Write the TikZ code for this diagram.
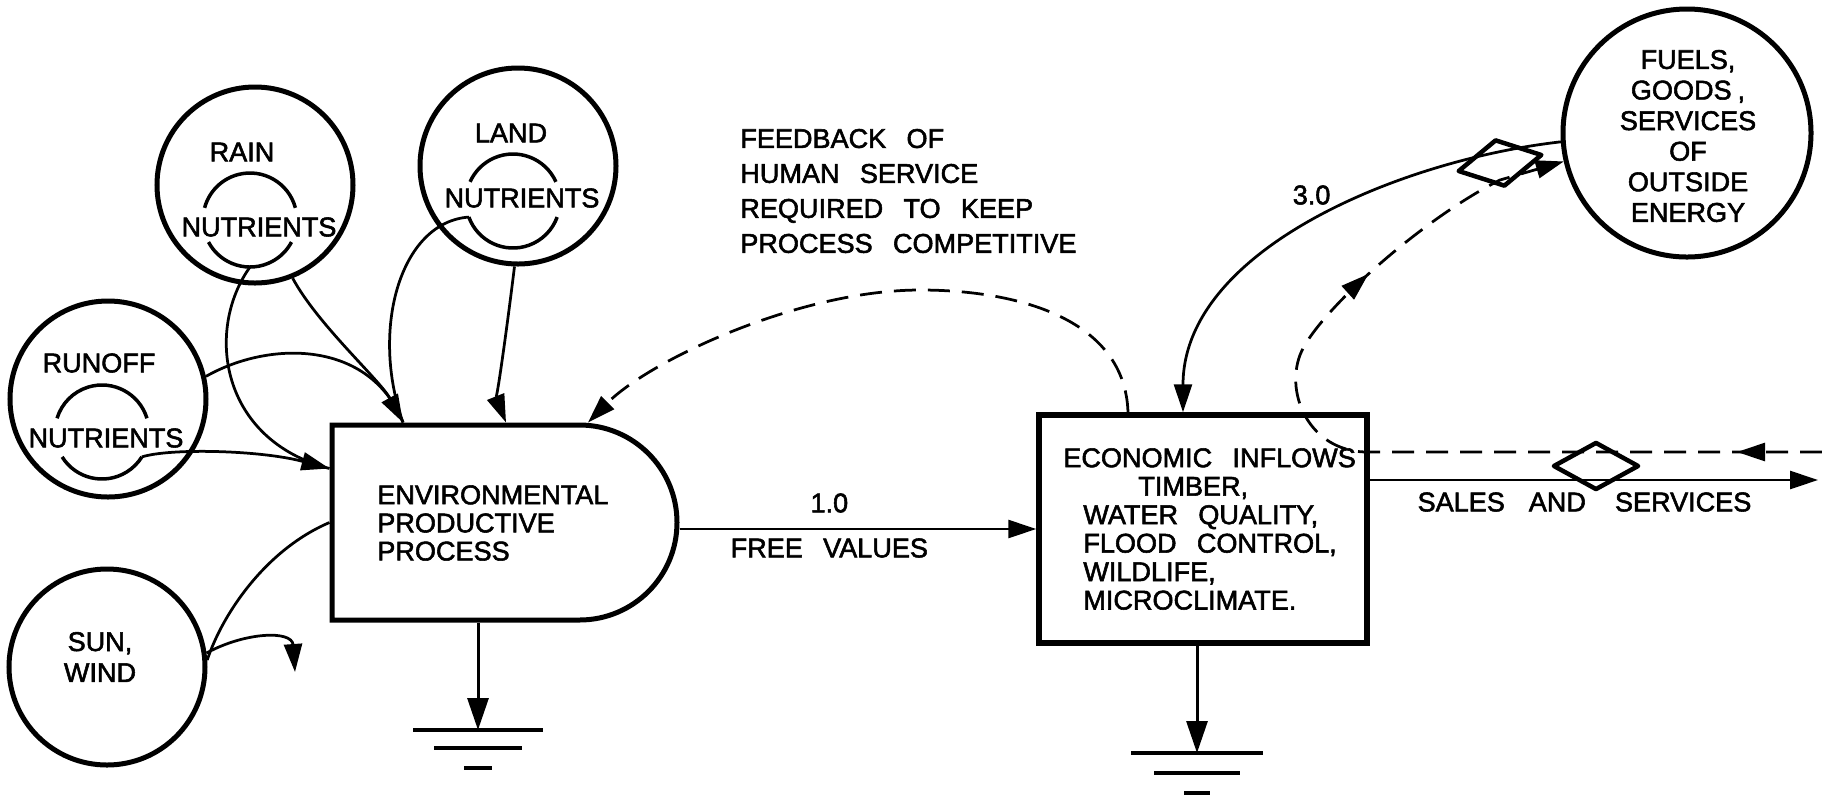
\documentclass[tikz,border=0pt]{standalone}
\usepackage{fontspec}
\setmainfont{Liberation Sans}[WordSpace=2.7, FakeBold=2]
\usetikzlibrary{shapes.geometric, shapes.misc, arrows.meta, calc, decorations.markings}
\newcommand{\lettersize}[1]{\fontsize{15.4}{#1}\selectfont}
\tikzstyle{source} = [circle, draw=black, line width=1mm, minimum size=39.2mm, inner sep=0pt]
\tikzstyle{pool} = [circle, minimum size=18.8mm, inner sep=0pt, outer sep=0pt]
\tikzstyle{rim} = [line width=0.7mm]
\tikzstyle{process} = [rounded rectangle, rounded rectangle left arc=none, draw=black, line width=1mm, minimum width=69mm, minimum height=39mm, inner sep=0pt]
\tikzstyle{outflow} = [rectangle, draw=black, line width=1.1mm, minimum width=65.6mm, minimum height=45.6mm, inner sep=0pt]
\tikzstyle{valve} = [diamond, draw=black, line width=0.9mm, minimum width=17.2mm, minimum height=9.6mm, inner sep=0pt, line join=round]
\tikzstyle{lbl} = [inner sep=0pt, font=\lettersize{17.5}]
\tikzstyle{flow} = [line width=0.55mm]
\tikzstyle{arrow} = [flow, -{Triangle[length=5.6mm, width=3.6mm]}]
\tikzstyle{money} = [flow, dash pattern=on 4.4mm off 2.4mm]
\tikzstyle{sink} = [line width=0.6mm, -{Triangle[length=6.4mm, width=4.2mm]}]
\tikzstyle{earth} = [line width=0.9mm]

\begin{document}
\begin{tikzpicture}[x=0.2mm, y=-0.2mm]
\useasboundingbox (0,0) rectangle (1822,797);

% Sources
\node (rain) [source] at (255,185) {};
\node (runoff) [source] at (108,399) {};
\node (land) [source] at (518,166) {};
\node (sun) [source] at (107,667) {};
\node (fuels) [source, minimum size=49.6mm] at (1687,133) {};

% Nutrient pools inside the sources
\node (rainpool) [pool] at (250,220) {};
\node (runoffpool) [pool] at (102,432) {};
\node (landpool) [pool] at (513,201) {};
\foreach \p/\ta/\tb/\ba/\bb in {rainpool/15/165/208/332, runoffpool/17/163/212/328, landpool/24/156/200/340}{
  \draw [rim] (\p.\ta) arc[start angle=-\ta, end angle=-\tb, radius=47];
  \draw [rim] (\p.\ba) arc[start angle=-\ba, end angle=-\bb, radius=47];
}

% Labels of the sources
\node (rainname) [lbl] at (242,152) {RAIN};
\node (rainnut) [lbl] at (259,227) {NUTRIENTS};
\node (runoffname) [lbl] at (99,363) {RUNOFF};
\node (runoffnut) [lbl] at (106,438) {NUTRIENTS};
\node (landname) [lbl] at (511,133) {LAND};
\node (landnut) [lbl] at (522,198) {NUTRIENTS};
\node (sunname) [lbl, align=center, font=\lettersize{17.6}] at (100,657) {SUN,\\WIND};
\node (fuelsname) [lbl, align=center, font=\lettersize{17.4}] at (1688,136) {FUELS,\\GOODS\hspace{1.2mm},\\SERVICES\\OF\\OUTSIDE\\ENERGY};

% Processes
\node (env) [process] at (504.5,522.5) {};
\node (envtext) [lbl, align=left, anchor=west, font=\lettersize{16}] at (377,523) {ENVIRONMENTAL\\PRODUCTIVE\\PROCESS};
\node (econ) [outflow] at (1203,529) {};
\node (econtext) [lbl, align=left, anchor=west, font=\lettersize{16.2}] at (1063,529) {ECONOMIC INFLOWS\\\hspace*{15mm}TIMBER,\\\hspace*{4mm}WATER QUALITY,\\\hspace*{4mm}FLOOD CONTROL,\\\hspace*{4mm}WILDLIFE,\\\hspace*{4mm}MICROCLIMATE.};
\node (feedback) [lbl, align=left, anchor=west, font=\lettersize{19.9}] at (740,191) {FEEDBACK OF\\HUMAN SERVICE\\REQUIRED TO KEEP\\PROCESS COMPETITIVE};

% Exchange valves
\node (buyvalve) [valve, rotate=11] at (1500,163) {};
\node (sellvalve) [valve] at (1596,466) {};

% Free ends
\coordinate (sunout) at (295,672);
\coordinate (envsink) at (478,730);
\coordinate (econsink) at (1197,753);
\coordinate (salesout) at (1818,480);
\coordinate (moneyin) at (1822,452);

% Inputs to the productive process
\draw [flow] (runoff.13) .. controls (270,340) and (370,340) .. ($(env.north)+(-101.5,0)$);
\draw [flow] (landpool.200) .. controls (400,222) and (370,330) .. ($(env.north)+(-101.5,0)$);
\draw [arrow] (rain.-68) .. controls (318,325) and (380,380) .. ($(env.north)+(-101.5,0)$);
\draw [arrow] (land.-92) .. controls (508,320) and (497,400) .. ($(env.north)+(1.5,0)$);
\draw [flow] (rainpool.270) .. controls (205,330) and (220,440) .. ($(env.west)+(0,-54)$);
\draw [arrow] (runoffpool.328) .. controls (170,448) and (260,450) .. ($(env.west)+(0,-54)$);
\draw [flow] (sun.4) .. controls (222,615) and (265,550) .. (env.west);
\draw [arrow] (sun.8) .. controls (245,632) and (292,630) .. (sunout);

% Free values to the economy
\draw [arrow] (env.east |- econ.west) -- (econ.west)
  node[lbl, pos=.42, yshift=5.2mm] (onelabel) {1.0}
  node[lbl, pos=.42, yshift=-3.8mm] (freelabel) {FREE VALUES};

% Heat sinks
\draw [sink] ($(env.south)+(-26.5,0)$) -- (envsink);
\foreach \w/\dy in {65/0, 44/18, 14/38}
  \draw [earth] ($(envsink)+(-\w,\dy)$) -- ($(envsink)+(\w,\dy)$);
\draw [sink] ($(econ.south)+(-6,0)$) -- (econsink);
\foreach \w/\dy in {66/0, 43/20, 13/40}
  \draw [earth] ($(econsink)+(-\w,\dy)$) -- ($(econsink)+(\w,\dy)$);

% Feedback of human service
\draw [money, -{Triangle[length=5.6mm, width=3.6mm]}] ($(econ.north)+(-75,0)$)
  .. controls (1125,320) and (1020,290) .. (920,290)
  .. controls (800,290) and (650,360) .. ($(env.north)+(83.5,0)$);

% Purchased energy
\draw [arrow] (fuels.184) .. controls (1400,160) and (1183,250) .. ($(econ.north)+(-20,0)$)
  node[lbl, pos=.5, yshift=5.6mm] (threelabel) {3.0};

% Sales
\draw [arrow] ($(econ.east)+(0,-49)$) -- (salesout)
  node[lbl, pos=.479, yshift=-4.4mm] (saleslabel) {SALES\hspace{4.8mm}AND\hspace{5.8mm}SERVICES};

% Money paid in and passed on for purchases
\draw [money, -{Triangle[length=5.6mm, width=3.6mm]}, postaction={decorate},
  decoration={markings,
    mark=at position 17mm with {\arrow{Triangle[length=5.6mm, width=3.6mm]}},
    mark=at position 140mm with {\arrow{Triangle[length=5.6mm, width=3.6mm]}}}]
  (moneyin) -- ($(econ.east)+(-5,-77)$)
  .. controls (1310,450) and (1285,395) .. (1300,355)
  .. controls (1315,315) and (1420,220) .. (1500,180) -- (fuels.193);
\end{tikzpicture}
\end{document}
